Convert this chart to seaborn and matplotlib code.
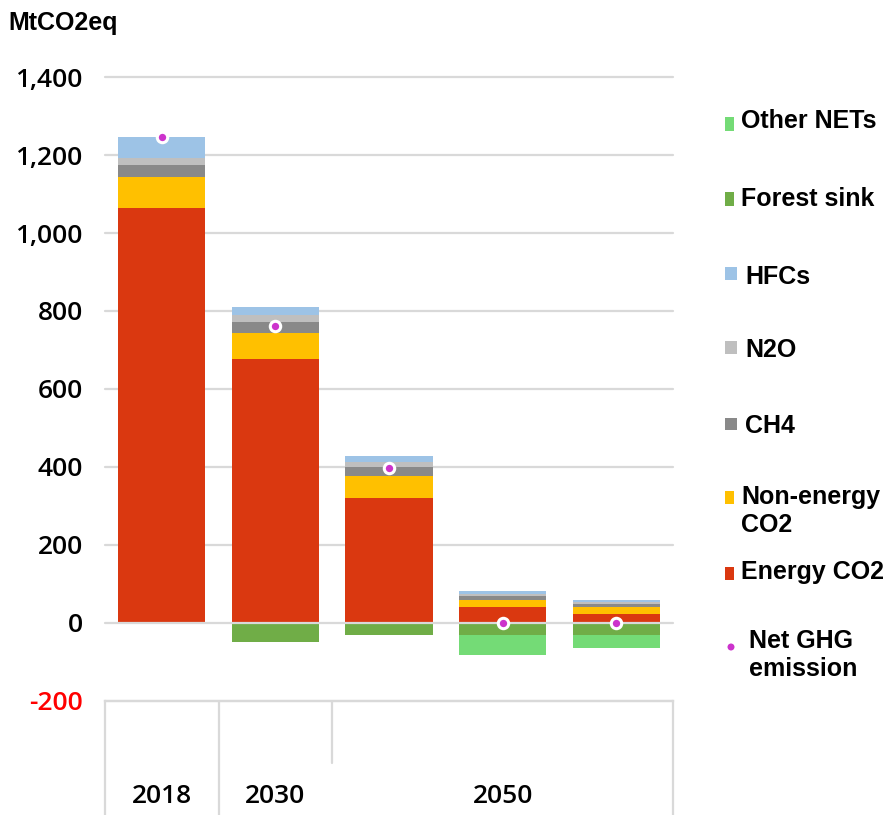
import numpy as np
import matplotlib
matplotlib.use("Agg")
import matplotlib.pyplot as plt
import seaborn as sns
from matplotlib.patches import Rectangle, Ellipse

# ---------------- data ----------------
scenarios = ["2018", "2030", "2050-1", "2050-2", "2050-3"]
energy_co2 = [1064, 677, 320, 42, 22]
non_energy_co2 = [79, 67, 57, 18, 19]
ch4 = [31, 28, 24, 9, 9]
n2o = [19, 17, 12, 6, 5]
hfcs = [53, 21, 15, 6, 5]
forest_sink = [0, -49, -32, -31, -31]
other_nets = [0, 0, 0, -50, -34]
net_ghg = [1246, 761, 397, 0, 0]
period_labels = ["2018", "2030", "2050"]
period_members = [["2018"], ["2030"], ["2050-1", "2050-2", "2050-3"]]
yticks = [-200, 0, 200, 400, 600, 800, 1000, 1200, 1400]

C_ENERGY = "#DA3810"
C_NONEN = "#FFC000"
C_CH4 = "#898989"
C_N2O = "#BFBFBF"
C_HFC = "#9DC3E6"
C_FOREST = "#70AD47"
C_OTHER = "#74DB76"
C_NET = "#CC33CC"
C_GRID = "#D9D9D9"

W_PX, H_PX = 894, 815

sns.set_theme(style="white")
plt.rcParams["font.family"] = ["Liberation Sans", "DejaVu Sans"]
plt.rcParams["text.color"] = "black"
plt.rcParams["ytick.color"] = "black"
plt.rcParams["xtick.color"] = "black"
NUM_FONT = ["Open Sans", "Liberation Sans", "DejaVu Sans"]

fig = plt.figure(figsize=(W_PX / 100, H_PX / 100), dpi=100)

L = 105 / W_PX
R = 673 / W_PX
B = (H_PX - 701) / H_PX
T = (H_PX - 77) / H_PX
ax = fig.add_axes([L, B, R - L, T - B])

pos_layers = [(energy_co2, C_ENERGY), (non_energy_co2, C_NONEN), (ch4, C_CH4),
              (n2o, C_N2O), (hfcs, C_HFC)]
cum = np.cumsum([np.array(v, dtype=float) for v, _ in pos_layers], axis=0)
bar_w = 0.766
for i in reversed(range(len(pos_layers))):
    sns.barplot(x=scenarios, y=cum[i], order=scenarios, color=pos_layers[i][1],
                saturation=1, width=bar_w, errorbar=None, linewidth=0, ax=ax, zorder=2)

neg_total = np.array(forest_sink, dtype=float) + np.array(other_nets, dtype=float)
sns.barplot(x=scenarios, y=neg_total, order=scenarios, color=C_OTHER, saturation=1,
            width=bar_w, errorbar=None, linewidth=0, ax=ax, zorder=2)
sns.barplot(x=scenarios, y=np.array(forest_sink, dtype=float), order=scenarios, color=C_FOREST,
            saturation=1, width=bar_w, errorbar=None, linewidth=0, ax=ax, zorder=2)

for t in yticks:
    ax.axhline(t, color=C_GRID, lw=1.6, zorder=3 if t == 0 else 0, clip_on=False)

sns.stripplot(x=scenarios, y=net_ghg, order=scenarios, jitter=False, color=C_NET,
              size=7.5, edgecolor="white", linewidth=2.2, ax=ax, zorder=5)
for c in ax.collections:
    c.set_clip_on(False)

ax.set_xlim(-0.5, len(scenarios) - 0.5)
ax.set_ylim(-200, 1400)
ax.set_yticks(yticks)
ax.set_yticklabels([f"{t:,}" for t in yticks], fontsize=19, family=NUM_FONT, fontweight=600)
for lab, t in zip(ax.get_yticklabels(), yticks):
    lab.set_color("red" if t < 0 else "black")
ax.tick_params(axis="y", length=0, pad=16)
ax.set_xticks([])
ax.set_xlabel("")
ax.set_ylabel("")
for s in ax.spines.values():
    s.set_visible(False)
ax.grid(False)

# ---------------- category box ----------------
axb = fig.add_axes([L, 0, R - L, B])
axb.set_xlim(-0.5, len(scenarios) - 0.5)
axb.set_ylim(0, 1)
axb.set_xticks([])
axb.set_yticks([])
axb.set_facecolor("none")
for side in ["top", "left", "right"]:
    axb.spines[side].set_visible(True)
    axb.spines[side].set_color(C_GRID)
    axb.spines[side].set_linewidth(1.6)
axb.spines["bottom"].set_visible(False)
idx = {s: i for i, s in enumerate(scenarios)}
for k, (lab, mem) in enumerate(zip(period_labels, period_members)):
    pos = [idx[m] for m in mem]
    axb.text(np.mean(pos), 0.16, lab, ha="center", va="center", fontsize=19, color="black",
             family=NUM_FONT, fontweight=600)
    if k < len(period_labels) - 1:
        edge = max(pos) + 0.5
        ymin = 0.0 if k == 0 else 0.46
        axb.axvline(edge, ymin=ymin, ymax=1, color=C_GRID, lw=1.6)

# ---------------- title ----------------
def fx(x):
    return x / W_PX

def fy(y):
    return 1 - y / H_PX

fig.text(fx(8), fy(23), "MtCO2eq", fontsize=18, fontweight="bold", ha="left", va="center",
         color="black")

# ---------------- legend ----------------
legend_items = [
    ("Other NETs", C_OTHER, 121, (725, 117, 9, 14), 741),
    ("Forest sink", C_FOREST, 199, (725, 192, 9, 14), 741),
    ("HFCs", C_HFC, 277, (725, 267, 12, 13), 745),
    ("N2O", C_N2O, 350, (725, 341, 12, 13), 745),
    ("CH4", C_CH4, 426, (725, 418, 12, 12), 745),
    ("Non-energy\nCO2", C_NONEN, 511, (725, 491, 9, 13), 741),
    ("Energy CO2", C_ENERGY, 572, (725, 567, 9, 13), 741),
]
for text, col, ty, (rx, ry, rw, rh), tx in legend_items:
    fig.add_artist(Rectangle((fx(rx), fy(ry + rh)), rw / W_PX, rh / H_PX,
                             transform=fig.transFigure, color=col, lw=0))
    fig.text(fx(tx), fy(ty), text, fontsize=18, fontweight="bold", ha="left", va="center",
             linespacing=1.2, color="black")
fig.add_artist(Ellipse((fx(731), fy(647)), 7 / W_PX, 7 / H_PX,
                       transform=fig.transFigure, color=C_NET, lw=0))
fig.text(fx(749), fy(655), "Net GHG\nemission", fontsize=18, fontweight="bold",
         ha="left", va="center", linespacing=1.2, color="black")

fig.savefig("out.png", dpi=100)
